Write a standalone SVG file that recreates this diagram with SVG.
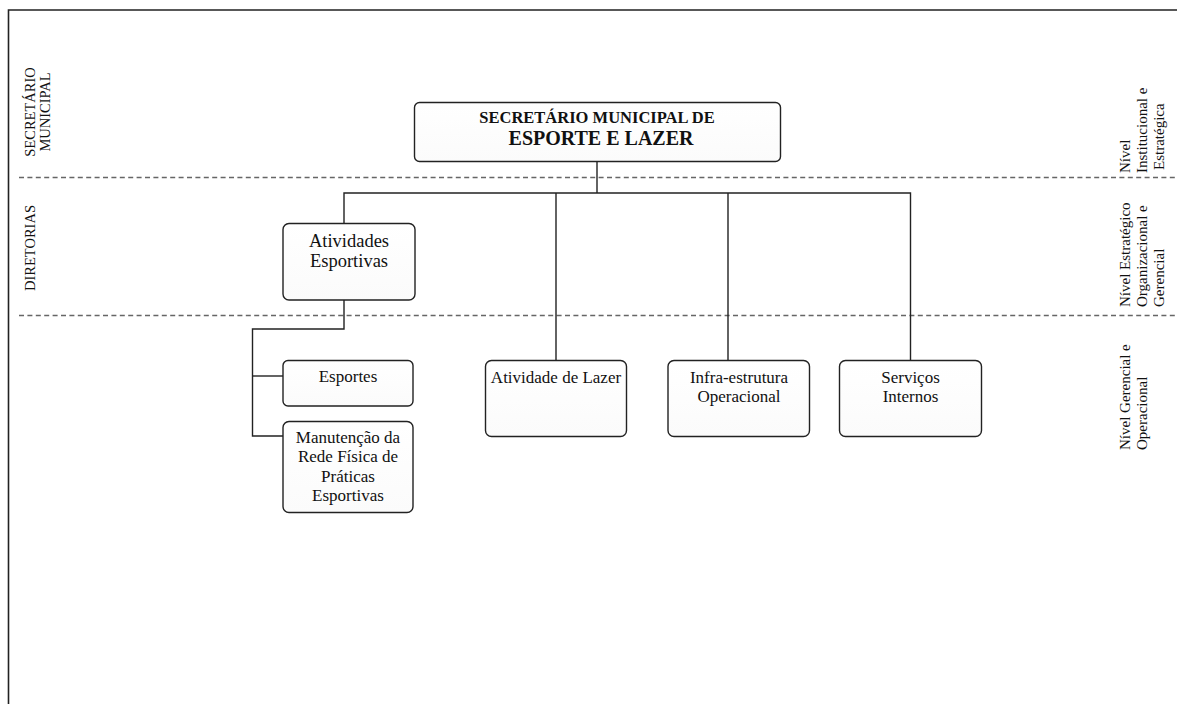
<svg xmlns="http://www.w3.org/2000/svg" width="1177" height="704" viewBox="0 0 1177 704">
  <style>
    .frame { fill: none; stroke: #222; stroke-width: 1.6; }
    .level { fill: none; stroke: #666; stroke-width: 1.3; stroke-dasharray: 5 3.4; }
    .box { fill: url(#boxfill); stroke: #222; stroke-width: 1.4; }
    .wire { fill: none; stroke: #222; stroke-width: 1.4; }
    .t { font-family: "Liberation Serif", "Times New Roman", serif; fill: #111; }
    .node { font-size: 17px; text-anchor: middle; }
    .big { font-size: 18.5px; }
    .side { font-size: 15px; }
    .band { font-size: 14.5px; text-anchor: middle; }
  </style>
  <defs>
    <linearGradient id="boxfill" x1="0" y1="0" x2="0" y2="1">
      <stop offset="0" stop-color="#ffffff"/>
      <stop offset="1" stop-color="#fbfbfb"/>
    </linearGradient>
  </defs>

  <rect width="1177" height="704" fill="#ffffff"/>

  <!-- page frame -->
  <path class="frame" d="M8.5 704 V10 H1177"/>

  <!-- level separators -->
  <g id="levels">
    <line class="level" x1="19" y1="177.5" x2="1177" y2="177.5"/>
    <line class="level" x1="19" y1="315.5" x2="1177" y2="315.5"/>
  </g>

  <!-- band titles, left side -->
  <g id="band-labels" class="t band">
    <text transform="translate(35,112) rotate(-90)">SECRETÁRIO</text>
    <text transform="translate(50,112) rotate(-90)">MUNICIPAL</text>
    <text transform="translate(35,248) rotate(-90)">DIRETORIAS</text>
  </g>

  <!-- level descriptions, right side -->
  <g id="level-labels" class="t side">
    <text transform="translate(1130,173) rotate(-90)">Nível</text>
    <text transform="translate(1147,173) rotate(-90)">Institucional e</text>
    <text transform="translate(1164,170) rotate(-90)">Estratégica</text>

    <text transform="translate(1130,307) rotate(-90)">Nível Estratégico</text>
    <text transform="translate(1147,307) rotate(-90)">Organizacional e</text>
    <text transform="translate(1164,307) rotate(-90)">Gerencial</text>

    <text transform="translate(1130,450) rotate(-90)">Nível Gerencial e</text>
    <text transform="translate(1147,450) rotate(-90)">Operacional</text>
  </g>

  <!-- connectors -->
  <g id="connectors">
    <path class="wire" d="M597 161.5 V193"/>
    <path class="wire" d="M344 223.5 V193 H910.5 V360.5"/>
    <path class="wire" d="M556 193 V360.5"/>
    <path class="wire" d="M728 193 V360.5"/>
    <path class="wire" d="M344 300 V329 H252.5 V436 H283"/>
    <path class="wire" d="M252.5 376 H283"/>
  </g>

  <!-- secretary -->
  <g id="secretario">
    <rect class="box" x="414.5" y="102.5" width="366" height="59" rx="5"/>
    <text class="t" x="597" y="123" text-anchor="middle" font-size="16.5" font-weight="bold">SECRETÁRIO MUNICIPAL DE</text>
    <text class="t" x="601" y="145" text-anchor="middle" font-size="20" font-weight="bold">ESPORTE E LAZER</text>
  </g>

  <!-- directorate -->
  <g id="atividades-esportivas">
    <rect class="box" x="283" y="223.5" width="132" height="76.5" rx="6"/>
    <text class="t node big" x="349" y="246.5">Atividades</text>
    <text class="t node big" x="349" y="267">Esportivas</text>
  </g>

  <!-- operational units -->
  <g id="esportes">
    <rect class="box" x="283" y="360.5" width="130" height="45.5" rx="5"/>
    <text class="t node" x="348" y="382">Esportes</text>
  </g>

  <g id="manutencao">
    <rect class="box" x="283" y="421.5" width="130" height="91" rx="6"/>
    <text class="t node" x="348" y="443">Manutenção da</text>
    <text class="t node" x="348" y="462">Rede Física de</text>
    <text class="t node" x="348" y="482">Práticas</text>
    <text class="t node" x="348" y="501">Esportivas</text>
  </g>

  <g id="atividade-lazer">
    <rect class="box" x="485.5" y="360.5" width="141" height="76" rx="6"/>
    <text class="t node" x="556" y="382.5">Atividade de Lazer</text>
  </g>

  <g id="infraestrutura">
    <rect class="box" x="668" y="360.5" width="141.5" height="76" rx="6"/>
    <text class="t node" x="739" y="382.5">Infra-estrutura</text>
    <text class="t node" x="739" y="401.5">Operacional</text>
  </g>

  <g id="servicos-internos">
    <rect class="box" x="839.5" y="360.5" width="142" height="76" rx="6"/>
    <text class="t node" x="910.5" y="382.5">Serviços</text>
    <text class="t node" x="910.5" y="401.5">Internos</text>
  </g>
</svg>
